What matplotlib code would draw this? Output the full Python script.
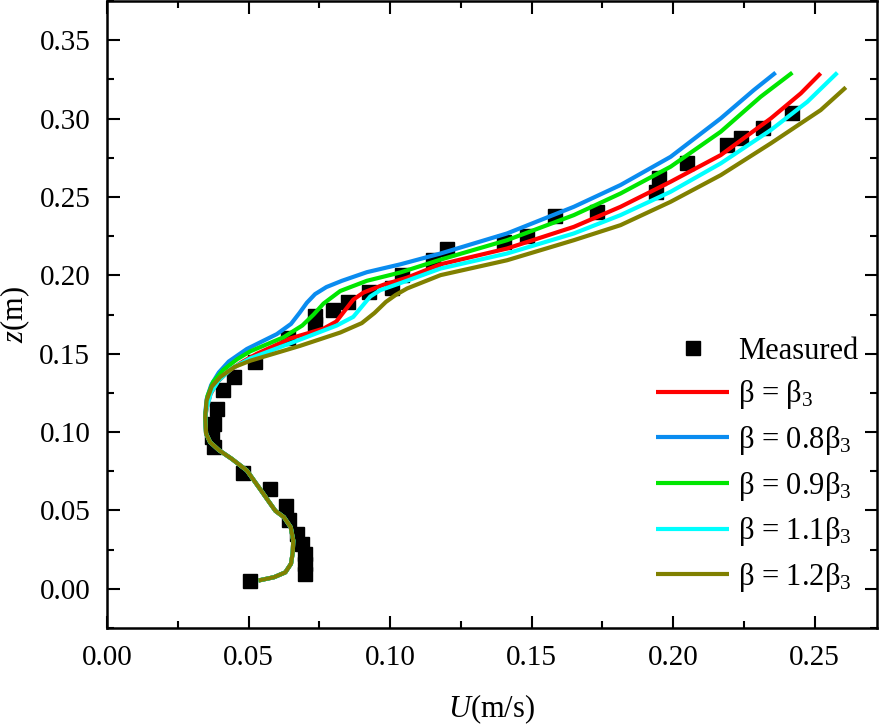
import numpy as np
import matplotlib
matplotlib.use("Agg")
import matplotlib.pyplot as plt
from matplotlib.ticker import MultipleLocator, FormatStrFormatter

plt.rcParams['font.family'] = ['Liberation Serif', 'DejaVu Serif']
plt.rcParams['mathtext.fontset'] = 'custom'
plt.rcParams['mathtext.rm'] = 'Liberation Serif'
plt.rcParams['mathtext.it'] = 'Liberation Serif:italic'

# Measured data
meas_u = [0.0506, 0.0700, 0.0700, 0.0700, 0.0688, 0.0670, 0.0644, 0.0631, 0.0576, 0.0482,
          0.0377, 0.0371, 0.0377, 0.0387, 0.0410, 0.0447, 0.0523, 0.0640, 0.0735, 0.0735,
          0.0800, 0.0853, 0.0924, 0.1006, 0.1043, 0.1153, 0.1200, 0.1402, 0.1484, 0.1584,
          0.1731, 0.1938, 0.1950, 0.2050, 0.2189, 0.2239, 0.2318, 0.2419]
meas_z = [0.0053, 0.0096, 0.0160, 0.0223, 0.0287, 0.0351, 0.0440, 0.0526, 0.0639, 0.0740,
          0.0904, 0.0968, 0.1053, 0.1149, 0.1266, 0.1351, 0.1447, 0.1600, 0.1690, 0.1738,
          0.1777, 0.1830, 0.1894, 0.1916, 0.2000, 0.2096, 0.2165, 0.2213, 0.2250, 0.2380,
          0.2405, 0.2533, 0.2618, 0.2714, 0.2831, 0.2873, 0.2937, 0.3037]

# Shared lower part of the simulated profiles
low_u = [0.0535, 0.0590, 0.0630, 0.0650, 0.0656, 0.0658, 0.0649, 0.0625, 0.0595, 0.0573,
         0.0544, 0.0494, 0.0440, 0.0395, 0.0364, 0.0350, 0.0347]
low_z = [0.0053, 0.0074, 0.0105, 0.0160, 0.0230, 0.0308, 0.0393, 0.0457, 0.0497, 0.0553,
         0.0628, 0.0755, 0.0830, 0.0885, 0.0936, 0.0990, 0.1096]

# Upper parts
b10_u = [0.0352, 0.0365, 0.0390, 0.0430, 0.0480, 0.0530, 0.0647, 0.0765, 0.0810, 0.0840,
         0.0870, 0.0906, 0.0977, 0.1060, 0.1178, 0.1413, 0.1649, 0.1814, 0.1991, 0.2168,
         0.2345, 0.2451, 0.2521]
b10_z = [0.1150, 0.1240, 0.1320, 0.1390, 0.1450, 0.1500, 0.1597, 0.1660, 0.1705, 0.1775,
         0.1845, 0.1890, 0.1940, 0.1985, 0.2070, 0.2171, 0.2309, 0.2437, 0.2597, 0.2767,
         0.3001, 0.3161, 0.3289]

b08_u = [0.0347, 0.0352, 0.0368, 0.0395, 0.0430, 0.0494, 0.0600, 0.0650, 0.0680, 0.0706,
         0.0735, 0.0775, 0.0830, 0.0918, 0.1036, 0.1178, 0.1413, 0.1649, 0.1814, 0.1991,
         0.2168, 0.2285, 0.2362]
b08_z = [0.1117, 0.1210, 0.1300, 0.1380, 0.1450, 0.1530, 0.1625, 0.1690, 0.1760, 0.1825,
         0.1880, 0.1925, 0.1965, 0.2020, 0.2070, 0.2139, 0.2267, 0.2437, 0.2576, 0.2756,
         0.3001, 0.3182, 0.3293]

b09_u = [0.0350, 0.0355, 0.0375, 0.0410, 0.0460, 0.0506, 0.0624, 0.0690, 0.0730, 0.0765,
         0.0824, 0.0918, 0.1036, 0.1178, 0.1413, 0.1649, 0.1814, 0.1991, 0.2168, 0.2309,
         0.2421]
b09_z = [0.1150, 0.1230, 0.1320, 0.1395, 0.1465, 0.1515, 0.1605, 0.1680, 0.1750, 0.1820,
         0.1900, 0.1965, 0.2018, 0.2100, 0.2224, 0.2384, 0.2522, 0.2693, 0.2916, 0.3139,
         0.3293]

b11_u = [0.0352, 0.0367, 0.0395, 0.0440, 0.0506, 0.0682, 0.0812, 0.0870, 0.0900, 0.0930,
         0.0965, 0.1036, 0.1178, 0.1413, 0.1649, 0.1814, 0.1991, 0.2168, 0.2345, 0.2474,
         0.2580]
b11_z = [0.1150, 0.1250, 0.1330, 0.1405, 0.1470, 0.1590, 0.1680, 0.1735, 0.1800, 0.1865,
         0.1905, 0.1950, 0.2043, 0.2139, 0.2267, 0.2384, 0.2533, 0.2714, 0.2927, 0.3107,
         0.3293]

b12_u = [0.0352, 0.0370, 0.0400, 0.0450, 0.0506, 0.0682, 0.0824, 0.0900, 0.0945, 0.0985,
         0.1020, 0.1060, 0.1178, 0.1413, 0.1649, 0.1814, 0.1991, 0.2168, 0.2345, 0.2521,
         0.2610]
b12_z = [0.1202, 0.1290, 0.1351, 0.1415, 0.1455, 0.1550, 0.1635, 0.1695, 0.1760, 0.1830,
         0.1875, 0.1916, 0.2001, 0.2096, 0.2224, 0.2320, 0.2469, 0.2639, 0.2842, 0.3054,
         0.3199]

labels = [r'β = β$_{\mathregular{3}}$', r'β = 0.8β$_{\mathregular{3}}$',
          r'β = 0.9β$_{\mathregular{3}}$', r'β = 1.1β$_{\mathregular{3}}$',
          r'β = 1.2β$_{\mathregular{3}}$']
colors = ['#FF0000', '#0A8CF0', '#00E600', '#00FFFF', '#808000']

fig = plt.figure(figsize=(8.86, 7.26), dpi=100)
ax = fig.add_axes([107/886, 1 - 628/726, (877-107)/886, (628-1)/726])

ax.plot(meas_u, meas_z, 's', color='black', ms=9.5, zorder=2, label='Measured')
uppers = [(b10_u, b10_z), (b08_u, b08_z), (b09_u, b09_z), (b11_u, b11_z), (b12_u, b12_z)]
for (uu, zz), c, lab in zip(uppers, colors, labels):
    u = np.array(low_u + uu)
    z = np.array(low_z + zz)
    ax.plot(u, z, '-', color=c, lw=3.0, label=lab, zorder=3,
            solid_capstyle='butt', solid_joinstyle='round')

ax.set_xlim(0, 0.272)
ax.set_ylim(-0.025, 0.375)
ax.xaxis.set_major_locator(MultipleLocator(0.05))
ax.xaxis.set_minor_locator(MultipleLocator(0.025))
ax.yaxis.set_major_locator(MultipleLocator(0.05))
ax.yaxis.set_minor_locator(MultipleLocator(0.025))
ax.xaxis.set_major_formatter(FormatStrFormatter('%.2f'))
ax.yaxis.set_major_formatter(FormatStrFormatter('%.2f'))
ax.tick_params(which='both', direction='in', top=True, right=True, width=1.5,
               labelsize=21, colors='black')
ax.tick_params(which='major', length=9, pad=12)
ax.tick_params(which='minor', length=5)
for s in ax.spines.values():
    s.set_linewidth(1.8)

ax.set_xlabel(r'$U$(m/s)', fontsize=22, labelpad=16)
ax.set_ylabel(r'$z$(m)', fontsize=22, labelpad=5)

leg = ax.legend(loc='lower right', bbox_to_anchor=(1.0, 0.025), frameon=False,
                fontsize=22, handlelength=2.4, handletextpad=0.3, labelspacing=0.415,
                borderaxespad=0.2)

fig.savefig('out.png', dpi=100)
